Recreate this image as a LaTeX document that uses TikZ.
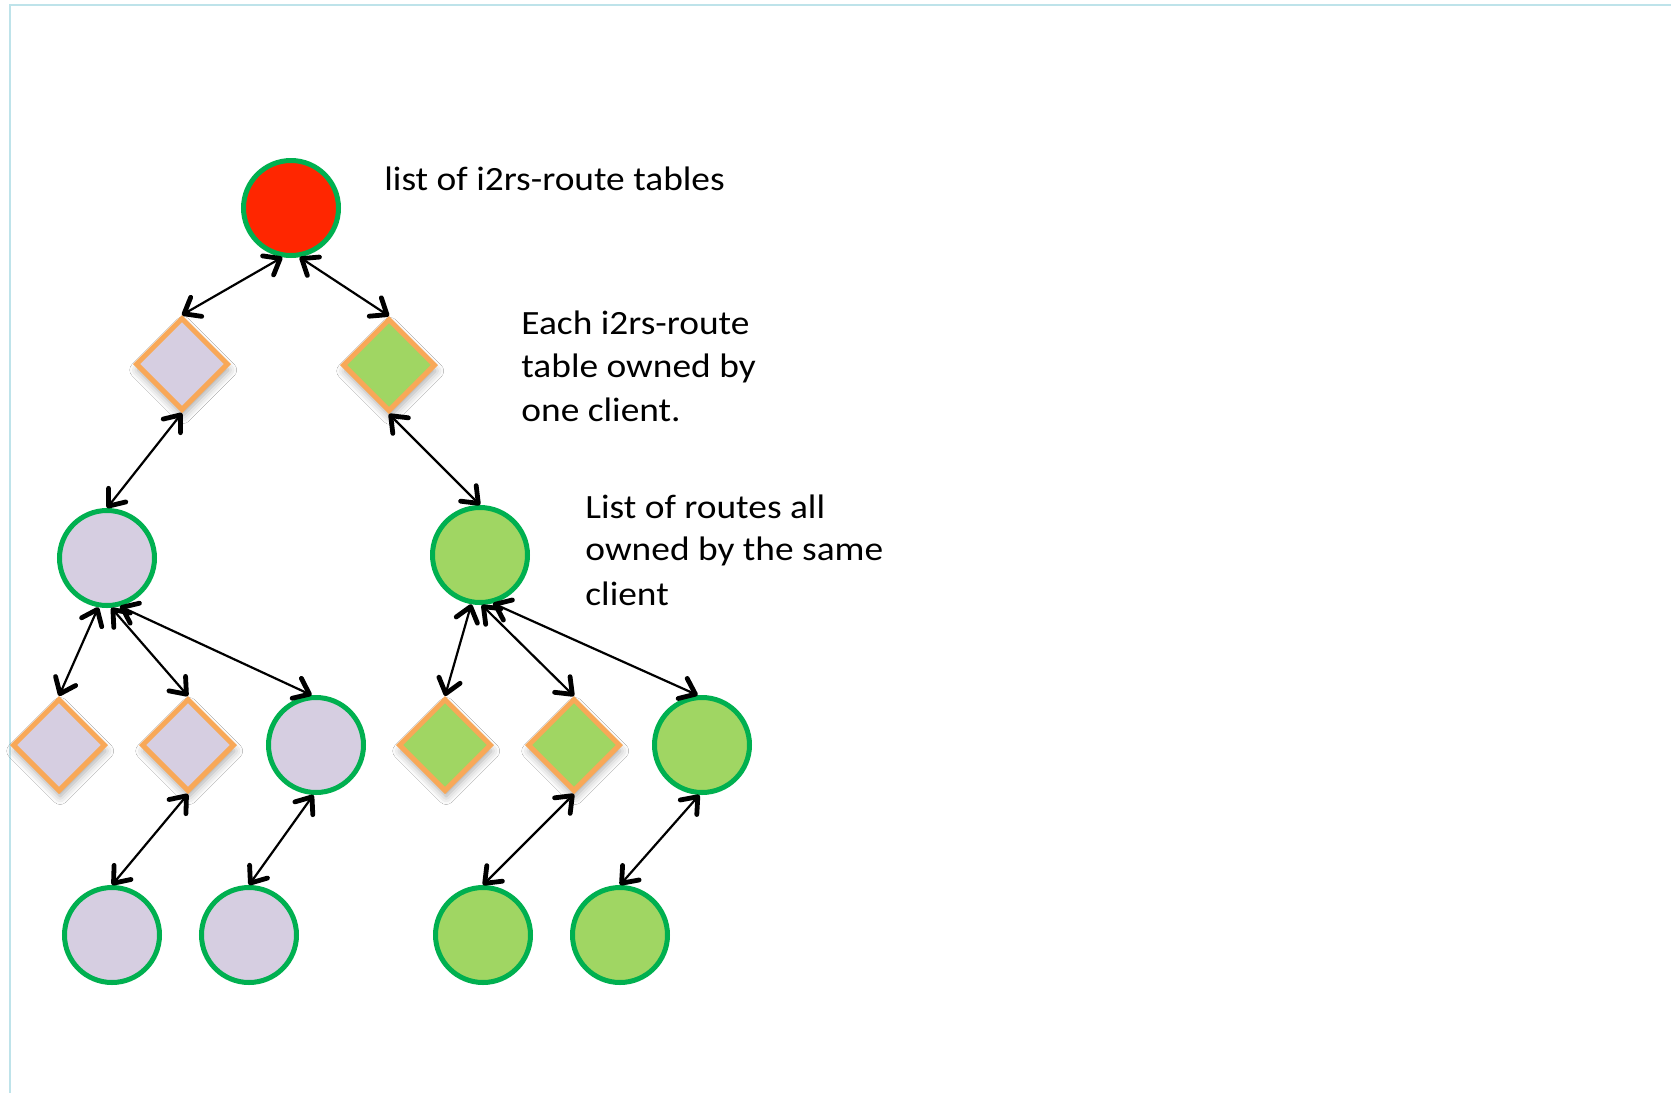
\documentclass[tikz,border=0pt]{standalone}
\usepackage{fontspec}
\setmainfont{Carlito}
\newfontfamily\lblfont[FakeStretch=1.1]{Carlito}
\usetikzlibrary{shapes.geometric,arrows.meta,shadows.blur}
\definecolor{cgreen}{RGB}{0,176,80}
\definecolor{fgreen}{RGB}{160,214,99}
\definecolor{flav}{RGB}{214,206,225}
\definecolor{corange}{RGB}{248,168,88}
\definecolor{fred}{RGB}{255,38,0}
\definecolor{frame}{RGB}{190,227,234}
\begin{document}
\begin{tikzpicture}[x=0.5pt,y=-0.5pt,
  circ/.style={circle, draw=cgreen, line width=2.5pt, minimum size=47.5pt, inner sep=0pt},
  dia/.style={diamond, draw=corange, line width=2.5pt, minimum width=46.5pt, minimum height=46.5pt, inner sep=0pt, aspect=1,
    blur shadow={shadow xshift=0.6pt, shadow yshift=-3pt, shadow blur radius=4pt, shadow opacity=35}},
  tipb/.tip={Straight Barb[length=7pt, width=11pt, line width=2.4pt, round]},
  link/.style={tipb-tipb, line width=1.1pt, black},
  lbl/.style={font=\lblfont\fontsize{17}{22}\selectfont, anchor=base west, inner sep=0pt}]
\useasboundingbox (0,0) rectangle (1671,1093);
\fill[white] (0,0) rectangle (1671,1093);
\coordinate (fa) at (1671,5);
\coordinate (fb) at (10,5);
\coordinate (fc) at (10,1093);
\draw[frame, line width=1pt] (fa) -- (fb) -- (fc);

% nodes
\node[circ, fill=fred] (red) at (291,208) {};
\node[dia, fill=flav] (L1) at (182,364) {};
\node[dia, fill=fgreen] (R1) at (389,365) {};
\node[circ, fill=flav] (L2) at (107,558) {};
\node[circ, fill=fgreen] (R2) at (480,555) {};
\node[dia, fill=flav] (L3a) at (59,745) {};
\node[dia, fill=flav] (L3b) at (188,745) {};
\node[circ, fill=flav] (L3c) at (316,745) {};
\node[dia, fill=fgreen] (R3a) at (445,745) {};
\node[dia, fill=fgreen] (R3b) at (574,745) {};
\node[circ, fill=fgreen] (R3c) at (702,745) {};
\node[circ, fill=flav] (L4a) at (112,935) {};
\node[circ, fill=flav] (L4b) at (249,935) {};
\node[circ, fill=fgreen] (R4a) at (483,935) {};
\node[circ, fill=fgreen] (R4b) at (620,935) {};

% links
\draw[link] (red.-100) -- (L1.north);
\draw[link] (red.-80) -- (R1.north);
\draw[link] (L1.south) -- (L2.north);
\draw[link] (R1.south) -- (R2.north);
\draw[link] (L2.-100) -- (L3a.north);
\draw[link] (L2.-85) -- (L3b.north);
\draw[link] (L2.-75) -- (L3c.95);
\draw[link] (R2.-100) -- (R3a.north);
\draw[link] (R2.-88) -- (R3b.north);
\draw[link] (R2.-75) -- (R3c.95);
\draw[link] (L3b.south) -- (L4a.north);
\draw[link] (L3c.-93) -- (L4b.north);
\draw[link] (R3b.south) -- (R4a.north);
\draw[link] (R3c.-93) -- (R4b.north);

% labels
\node[lbl] (t1) at (384,190) {list of i2rs-route tables};
\node[lbl] (t2a) at (521,334) {Each i2rs-route};
\node[lbl] (t2b) at (521,377) {table owned by};
\node[lbl] (t2c) at (521,421) {one client.};
\node[lbl] (t3a) at (585,518) {List of routes all};
\node[lbl] (t3b) at (585,560) {owned by the same};
\node[lbl] (t3c) at (585,605) {client};
\end{tikzpicture}
\end{document}
